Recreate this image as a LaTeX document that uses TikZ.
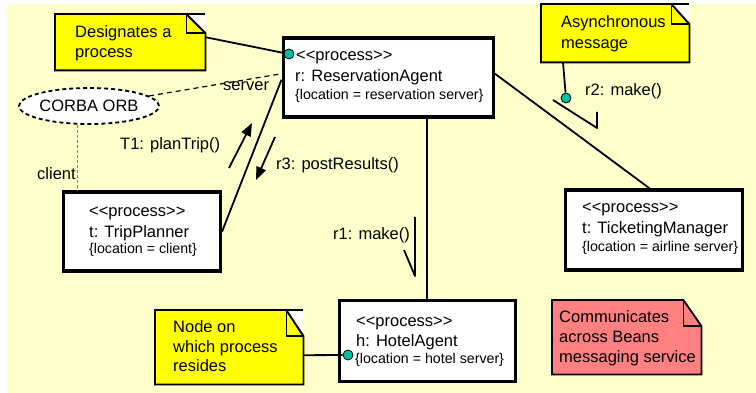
\documentclass[tikz,border=0pt]{standalone}
\usepackage{fontspec}
\setmainfont{Liberation Sans}
\usetikzlibrary{arrows.meta,shapes.geometric,calc}
\definecolor{bgc}{RGB}{255,255,204}
\definecolor{noteyellow}{RGB}{255,255,0}
\definecolor{notered}{RGB}{255,128,128}
\definecolor{dotc}{RGB}{0,190,160}
\newcommand\mynote[8]{%
  \node[notebase, minimum width=#4pt, minimum height=#5pt] (#1) at (#2,#3) {};
  \coordinate (#1-fa) at ([xshift=-#6pt]#1.north east);
  \coordinate (#1-fb) at ([yshift=-#7pt]#1.north east);
  \filldraw[notefill, fill=#8] (#1.north west) -- (#1-fa) -- (#1-fb) -- (#1.south east) -- (#1.south west) -- cycle;
  \draw[noteline] (#1-fa) |- (#1-fb);
}
\newcommand\mynotecorner[1]{%
  \fill[white] (#1-fa) -- (#1.north east) -- (#1-fb) -- cycle;
  \draw[noteline] (#1-fa) -- (#1.north east);
  \draw[noteline] (#1-fa) -- (#1-fb);
}
\begin{document}
\begin{tikzpicture}[x=1pt,y=-1pt,
  procbox/.style={draw, line width=3.5pt, fill=white, anchor=north west, inner sep=0pt},
  ptxt/.style={anchor=base west, inner sep=0pt, font=\fontsize{16.5}{20}\selectfont},
  stxt/.style={anchor=base west, inner sep=0pt, font=\fontsize{14.2}{17}\selectfont},
  notebase/.style={anchor=north west, inner sep=0pt},
  notefill/.style={draw, line width=1.8pt, line join=miter},
  noteline/.style={line width=1.8pt},
  conn/.style={line width=1.8pt, line join=round},
  dotn/.style={circle, draw, line width=0.8pt, fill=dotc, minimum size=10pt, inner sep=0pt},
  msgarrow/.style={line width=1.8pt, -{Triangle[length=13pt,width=10pt]}},
  orbshape/.style={ellipse, draw, line width=1.8pt, dash pattern=on 4pt off 3pt, fill=white,
    minimum width=118pt, minimum height=36pt, inner sep=0pt, font=\fontsize{16.5}{20}\selectfont},
  srvline/.style={line width=1.2pt, dash pattern=on 5pt off 4pt},
  cliline/.style={line width=1pt, gray, dash pattern=on 3pt off 2pt}]
\useasboundingbox (0,0) rectangle (756,393);
\fill[bgc] (7,4) rectangle (756,393);

% process boxes
\node[procbox, minimum width=210pt, minimum height=79pt] (ra) at (281.5,36.5) {};
\node[procbox, minimum width=157pt, minimum height=79pt] (tp) at (61.5,190.5) {};
\node[procbox, minimum width=177pt, minimum height=80pt] (tm) at (563.5,188.5) {};
\node[procbox, minimum width=176pt, minimum height=81pt] (ha) at (337.5,298.5) {};

\node[ptxt] (ra1) at (296,61) {<{}<process>{}>};
\node[ptxt] (ra2) at (295,82) {r: ReservationAgent};
\node[stxt] (ra3) at (295,100) {\{location = reservation server\}};
\node[ptxt] (tp1) at (89,217) {<{}<process>{}>};
\node[ptxt] (tp2) at (89,237) {t: TripPlanner};
\node[stxt] (tp3) at (89,254) {\{location = client\}};
\node[ptxt] (tm1) at (582,213) {<{}<process>{}>};
\node[ptxt] (tm2) at (582,234) {t: TicketingManager};
\node[stxt] (tm3) at (582,252) {\{location = airline server\}};
\node[ptxt] (ha1) at (356,326) {<{}<process>{}>};
\node[ptxt] (ha2) at (356,346) {h: HotelAgent};
\node[stxt] (ha3) at (355,363) {\{location = hotel server\}};

% notes
\mynote{na}{55}{14}{150}{56}{19}{19}{noteyellow}
\mynotecorner{na}
\mynote{nb}{541}{4}{148}{58}{18}{20}{noteyellow}
\mynotecorner{nb}
\mynote{nc}{155}{310}{148}{74}{17}{26}{noteyellow}
\mynotecorner{nc}
\mynote{nd}{552}{300}{149}{74}{18}{26}{notered}

\node[ptxt] (na1) at (75,38) {Designates a};
\node[ptxt] (na2) at (75,58) {process};
\node[ptxt] (nb1) at (561,28) {Asynchronous};
\node[ptxt] (nb2) at (561,48.5) {message};
\node[ptxt] (nc1) at (173,332) {Node on};
\node[ptxt] (nc2) at (173,352) {which process};
\node[ptxt] (nc3) at (173,371) {resides};
\node[ptxt] (nd1) at (559,322) {Communicates};
\node[ptxt] (nd2) at (559,342) {across Beans};
\node[ptxt] (nd3) at (559,362) {messaging service};

% CORBA ORB
\node[orbshape] (orb) at (89,106) {CORBA ORB};

% dots
\node[dotn] (d1) at (289,54) {};
\node[dotn] (d2) at (566,98) {};
\node[dotn] (d3) at (348,355) {};

% connectors
\draw[conn] ([yshift=5pt]na.east) -- (d1);
\draw[srvline] (orb) -- ([yshift=4pt]ra.west);
\draw[cliline] ([xshift=-12pt]orb.south) -- ([xshift=-12pt]orb.south |- tp.north);
\draw[conn] (tp.east) -- ([yshift=-2pt]ra.west);
\draw[conn] (ha.north) -- (ha.north |- ra.south);
\draw[conn] ([yshift=4pt]ra.east) -- ([xshift=-4pt]tm.north);
\draw[conn] ([yshift=-8pt]nc.east) -- (d3);
\draw[conn] ($(nb.south west)+(22,0)$) -- (d2);

% messages
\coordinate (t1a) at (229,168);
\coordinate (t1b) at (252,123);
\draw[msgarrow] (t1a) -- (t1b);
\coordinate (r3a) at (275,137);
\coordinate (r3b) at (256,180);
\draw[msgarrow] (r3a) -- (r3b);
\coordinate (r1a) at (415,217);
\coordinate (r1b) at (415,276);
\coordinate (r1c) at (404,250);
\draw[conn] (r1a) -- (r1b) -- (r1c);
\coordinate (r2a) at (553,100);
\coordinate (r2b) at (597,128);
\coordinate (r2c) at (597,112);
\draw[conn] (r2a) -- (r2b) -- (r2c);

% labels
\node[ptxt] (lsrv) at (223,91) {server};
\node[ptxt] (lcli) at (37,180) {client};
\node[ptxt] (lt1) at (120,150) {T1: planTrip()};
\node[ptxt] (lr3) at (276,170) {r3: postResults()};
\node[ptxt] (lr1) at (333,240) {r1: make()};
\node[ptxt] (lr2) at (585,96) {r2: make()};
\end{tikzpicture}
\end{document}
